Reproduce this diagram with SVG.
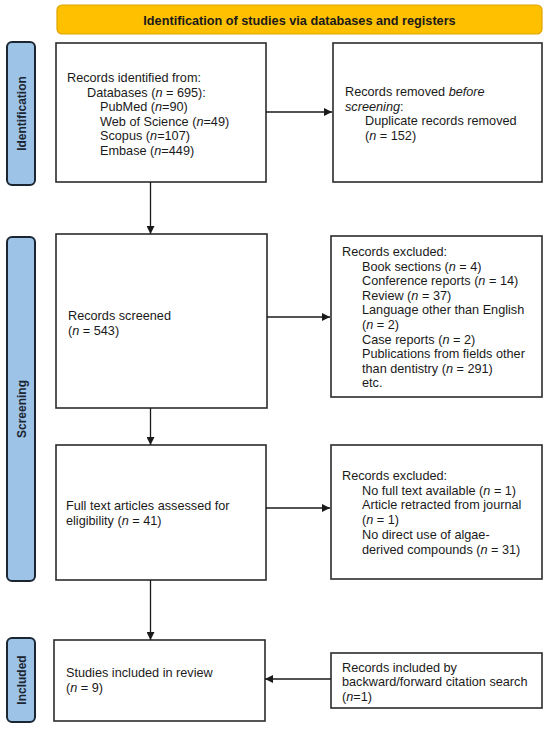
<svg xmlns="http://www.w3.org/2000/svg" width="550" height="731" viewBox="0 0 550 731">
<style>
text{font-family:"Liberation Sans",Arial,sans-serif;font-size:12.7px;fill:#1a1a1a}
.box{fill:#fff;stroke:#2b2b2b;stroke-width:1.6}
.side{fill:#9DC3E6;stroke:#1b2633;stroke-width:2}
.sidet{font-weight:bold;font-size:12px;fill:#1b2633}
.ban{fill:#FFC000;stroke:#E0A400;stroke-width:1.2}
.bant{font-weight:bold}
.c{fill:none;stroke:#1a1a1a;stroke-width:1.3}
</style>
<defs>
<marker id="ah" viewBox="0 0 10 10" refX="10" refY="5" markerWidth="8" markerHeight="8" markerUnits="userSpaceOnUse" orient="auto">
<path d="M0,0 L10,5 L0,10 z" fill="#1a1a1a"/>
</marker>
</defs>
<g id="banner">
<rect class="ban" x="57" y="5" width="485" height="29" rx="5"/>
<text class="bant" x="299.5" y="24.5" text-anchor="middle">Identification of studies via databases and registers</text>
</g>
<g id="label-identification">
<rect class="side" x="7" y="42" width="28" height="143" rx="5"/>
<text class="sidet" transform="translate(25.5,113.5) rotate(-90)" text-anchor="middle">Identification</text>
</g>
<g id="label-screening">
<rect class="side" x="7" y="237" width="28" height="344" rx="5"/>
<text class="sidet" transform="translate(25.5,409) rotate(-90)" text-anchor="middle">Screening</text>
</g>
<g id="label-included">
<rect class="side" x="7" y="638" width="28" height="84" rx="5"/>
<text class="sidet" transform="translate(25.5,680) rotate(-90)" text-anchor="middle">Included</text>
</g>
<g id="records-identified">
<rect class="box" x="56" y="43" width="210" height="139"/>
<text x="67" y="82">Records identified from:</text>
<text x="87" y="96.5">Databases (<tspan font-style="italic">n</tspan> = 695):</text>
<text x="100" y="111">PubMed (<tspan font-style="italic">n</tspan>=90)</text>
<text x="100" y="125.5">Web of Science (<tspan font-style="italic">n</tspan>=49)</text>
<text x="100" y="140">Scopus (<tspan font-style="italic">n</tspan>=107)</text>
<text x="100" y="154.5">Embase (<tspan font-style="italic">n</tspan>=449)</text>
</g>
<g id="records-removed">
<rect class="box" x="333" y="43" width="209" height="139"/>
<text x="345" y="96">Records removed <tspan font-style="italic">before</tspan></text>
<text x="345" y="110.5"><tspan font-style="italic">screening</tspan>:</text>
<text x="365" y="125">Duplicate records removed</text>
<text x="365" y="139.5">(<tspan font-style="italic">n</tspan> = 152)</text>
</g>
<g id="records-screened">
<rect class="box" x="56" y="234" width="211" height="174"/>
<text x="68" y="320">Records screened</text>
<text x="68" y="334.5">(<tspan font-style="italic">n</tspan> = 543)</text>
</g>
<g id="records-excluded-1">
<rect class="box" x="331" y="236" width="211" height="161"/>
<text x="342" y="256">Records excluded:</text>
<text x="362" y="270.6">Book sections (<tspan font-style="italic">n</tspan> = 4)</text>
<text x="362" y="285.2">Conference reports (<tspan font-style="italic">n</tspan> = 14)</text>
<text x="362" y="299.8">Review (<tspan font-style="italic">n</tspan> = 37)</text>
<text x="362" y="314.4">Language other than English</text>
<text x="362" y="329">(<tspan font-style="italic">n</tspan> = 2)</text>
<text x="362" y="343.6">Case reports (<tspan font-style="italic">n</tspan> = 2)</text>
<text x="362" y="358.2">Publications from fields other</text>
<text x="362" y="372.8">than dentistry (<tspan font-style="italic">n</tspan> = 291)</text>
<text x="362" y="387.4">etc.</text>
</g>
<g id="full-text">
<rect class="box" x="56" y="445" width="210" height="135"/>
<text x="66" y="510">Full text articles assessed for</text>
<text x="66" y="524.5">eligibility (<tspan font-style="italic">n</tspan> = 41)</text>
</g>
<g id="records-excluded-2">
<rect class="box" x="331" y="445" width="211" height="134"/>
<text x="342" y="480">Records excluded:</text>
<text x="362" y="494.7">No full text available (<tspan font-style="italic">n</tspan> = 1)</text>
<text x="362" y="509.4">Article retracted from journal</text>
<text x="362" y="524.1">(<tspan font-style="italic">n</tspan> = 1)</text>
<text x="362" y="538.8">No direct use of algae-</text>
<text x="362" y="553.5">derived compounds (<tspan font-style="italic">n</tspan> = 31)</text>
</g>
<g id="studies-included">
<rect class="box" x="54" y="640" width="211" height="81"/>
<text x="66" y="677">Studies included in review</text>
<text x="66" y="691.5">(<tspan font-style="italic">n</tspan> = 9)</text>
</g>
<g id="citation-search">
<rect class="box" x="331" y="653" width="211" height="55"/>
<text x="342" y="671.5">Records included by</text>
<text x="342" y="686">backward/forward citation search</text>
<text x="342" y="700.5">(<tspan font-style="italic">n</tspan>=1)</text>
</g>
<g id="connectors">
<line class="c" x1="266" y1="112" x2="332" y2="112" marker-end="url(#ah)"/>
<line class="c" x1="150.5" y1="182" x2="150.5" y2="234" marker-end="url(#ah)"/>
<line class="c" x1="267" y1="317" x2="330" y2="317" marker-end="url(#ah)"/>
<line class="c" x1="150.5" y1="408" x2="150.5" y2="445" marker-end="url(#ah)"/>
<line class="c" x1="266" y1="508" x2="330" y2="508" marker-end="url(#ah)"/>
<line class="c" x1="150.5" y1="580" x2="150.5" y2="640" marker-end="url(#ah)"/>
<line class="c" x1="331" y1="679" x2="265" y2="679" marker-end="url(#ah)"/>
</g>
</svg>
